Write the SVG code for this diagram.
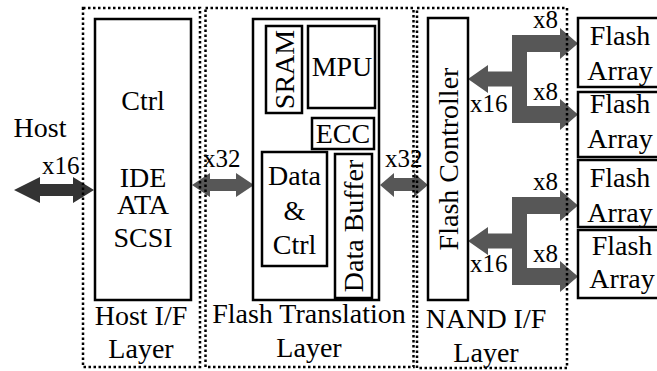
<svg xmlns="http://www.w3.org/2000/svg" width="657" height="371" viewBox="0 0 657 371" font-family="Liberation Serif">
<style>
.layer{fill:none;stroke:#000;stroke-width:2.5;stroke-dasharray:2.5 2.5}
.box{fill:#fff;stroke:#000;stroke-width:2.5}
.dark{fill:#333}
.gray{fill:#575757}
</style>
<rect width="657" height="371" fill="#fff"/>
<g id="connectors">
<polygon class="dark" points="14,190 40,177 40,184 73,184 73,177 94,190 73,203 73,196 40,196 40,203"/>
<polygon class="gray" points="192,185 210,173 210,179 236,179 236,173 254,185 236,197 236,191 210,191 210,197"/>
<polygon class="gray" points="380,185 394,173 394,178 414,178 414,173 428,185 414,197 414,191 394,191 394,197"/>
<g id="fork-top" class="gray">
<polygon points="468,79 488,65 488,71.5 512,71.5 512,86.5 488,86.5 488,93"/>
<rect x="512" y="35" width="15" height="88"/>
<polygon points="512,35 560,35 560,28 578,43.5 560,59 560,52 512,52"/>
<polygon points="512,106 560,106 560,99 578,114.5 560,130 560,123 512,123"/>
</g>
<g id="fork-bottom" class="gray">
<polygon points="468,241 488,227 488,233.5 512,233.5 512,248.5 488,248.5 488,255"/>
<rect x="512" y="197" width="15" height="88"/>
<polygon points="512,197 560,197 560,190 578,205.5 560,221 560,214 512,214"/>
<polygon points="512,268 560,268 560,261 578,276.5 560,292 560,285 512,285"/>
</g>
</g>
<g id="host-layer" font-family="Liberation Serif" font-size="28" text-anchor="middle">
<rect class="layer" x="83" y="8" width="117" height="359"/>
<text x="141" y="325">Host I/F</text>
<text x="141" y="358">Layer</text>
</g>
<g id="host-ctrl" font-family="Liberation Serif" font-size="28" text-anchor="middle">
<rect class="box" x="95" y="19" width="96" height="281"/>
<text x="143" y="110">Ctrl</text>
<text x="143" y="187">IDE</text>
<text x="143" y="214">ATA</text>
<text x="143" y="247">SCSI</text>
</g>
<g id="host" font-family="Liberation Serif" font-size="28">
<text x="40" y="137" text-anchor="middle">Host</text>
<text x="42" y="174" font-size="25">x16</text>
</g>
<g id="ftl-layer" font-family="Liberation Serif" font-size="28" text-anchor="middle">
<rect class="layer" x="205.5" y="8" width="208" height="359"/>
<text x="309" y="323">Flash Translation</text>
<text x="309" y="357">Layer</text>
</g>
<g id="ftl">
<rect class="box" x="253" y="19" width="126" height="281"/>
</g>
<g id="sram" font-family="Liberation Serif" font-size="28" text-anchor="middle">
<rect class="box" x="266" y="26" width="36" height="87"/>
<text transform="translate(294,69.5) rotate(-90)" x="0" y="0">SRAM</text>
</g>
<g id="mpu" font-family="Liberation Serif" font-size="28" text-anchor="middle">
<rect class="box" x="308" y="26" width="67" height="82"/>
<text x="342" y="76">MPU</text>
</g>
<g id="ecc" font-family="Liberation Serif" font-size="28" text-anchor="middle">
<rect class="box" x="312" y="118" width="62" height="31"/>
<text x="343" y="143">ECC</text>
</g>
<g id="data-ctrl" font-family="Liberation Serif" font-size="28" text-anchor="middle">
<rect class="box" x="262" y="152" width="65" height="114"/>
<text x="294.5" y="185">Data</text>
<text x="294.5" y="220">&amp;</text>
<text x="294.5" y="254">Ctrl</text>
</g>
<g id="data-buffer" font-family="Liberation Serif" font-size="28" text-anchor="middle">
<rect class="box" x="335" y="154" width="37" height="144"/>
<text transform="translate(363,226) rotate(-90)" x="0" y="0">Data Buffer</text>
</g>
<g id="bus-labels" font-family="Liberation Serif" font-size="25">
<text x="203" y="167">x32</text>
<text x="385" y="167">x32</text>
<text x="470" y="112">x16</text>
<text x="470" y="272">x16</text>
<text x="533" y="28">x8</text>
<text x="533" y="100">x8</text>
<text x="533" y="190">x8</text>
<text x="533" y="262">x8</text>
</g>
<g id="nand-layer" font-family="Liberation Serif" font-size="28" text-anchor="middle">
<rect class="layer" x="417" y="8" width="150" height="360"/>
<text x="486" y="328">NAND I/F</text>
<text x="486" y="362">Layer</text>
</g>
<g id="flash-controller" font-family="Liberation Serif" font-size="28" text-anchor="middle">
<rect class="box" x="428" y="18" width="40" height="282"/>
<text transform="translate(457.5,159) rotate(-90)" x="0" y="0">Flash Controller</text>
</g>
<g id="flash-array-1" font-family="Liberation Serif" font-size="28" text-anchor="middle">
<rect class="box" x="578" y="18" width="84" height="69"/>
<text x="620" y="45">Flash</text>
<text x="620" y="80">Array</text>
</g>
<g id="flash-array-2" font-family="Liberation Serif" font-size="28" text-anchor="middle">
<rect class="box" x="578" y="92" width="84" height="65"/>
<text x="620" y="113">Flash</text>
<text x="620" y="148">Array</text>
</g>
<g id="flash-array-3" font-family="Liberation Serif" font-size="28" text-anchor="middle">
<rect class="box" x="578" y="160" width="84" height="67"/>
<text x="620" y="187">Flash</text>
<text x="620" y="222">Array</text>
</g>
<g id="flash-array-4" font-family="Liberation Serif" font-size="28" text-anchor="middle">
<rect class="box" x="578" y="230" width="84" height="68"/>
<text x="622" y="255">Flash</text>
<text x="622" y="288">Array</text>
</g>
</svg>
